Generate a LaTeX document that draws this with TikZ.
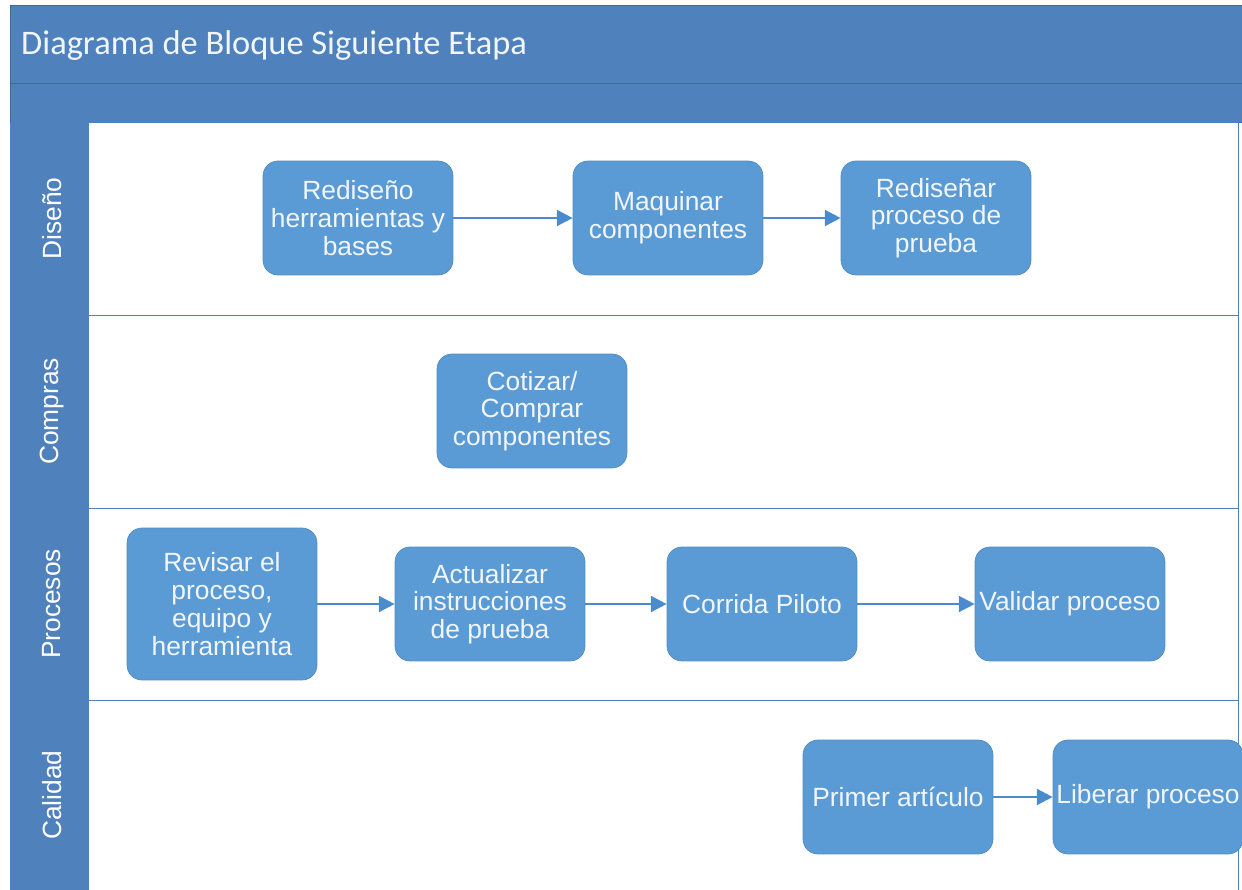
\documentclass[tikz,border=0pt]{standalone}
\usepackage{fontspec}
\setmainfont{Liberation Sans}
\newfontfamily\titulofont{Carlito}
\usetikzlibrary{arrows.meta}
\definecolor{azulcab}{HTML}{4F81BD}
\definecolor{azulcaja}{HTML}{5B9BD5}
\definecolor{azulflecha}{HTML}{4A8BCF}
\definecolor{textoclaro}{HTML}{F2F6FB}
\tikzset{
  paso/.style={draw=azulcaja!90!black, fill=azulcaja, rounded corners=0.3cm,
    minimum width=3.8cm, minimum height=2.28cm, inner sep=1pt, text=textoclaro,
    align=center, font=\fontsize{15}{15.8}\selectfont},
  flecha/.style={draw=azulflecha, line width=1.4pt, -{Triangle[length=9pt,width=9pt]}},
  carril/.style={rotate=90, text=white, font=\fontsize{15}{16}\selectfont}
}

\begin{document}
\begin{tikzpicture}[x=0.02cm, y=-0.02cm]
	%%%%% START %%%%%
	\useasboundingbox[fill=white] (0, 0) rectangle (1242, 890);
	
	% cabecera
	\draw[fill=azulcab, draw=azulcab!80!black] (10, 5) rectangle (1242, 83);
	\draw[fill=azulcab, draw=azulcab!80!black] (10, 83) rectangle (1242, 122);
	\node[anchor=west, text=textoclaro, font=\titulofont\fontsize{19.6}{22}\selectfont] (titulo) at (15, 45) {Diagrama de Bloque Siguiente Etapa};
	
	% carriles
	\foreach \nombre/\arriba/\abajo in {Diseño/122/315, Compras/315/508, Procesos/508/700, Calidad/700/890} {
		\draw[fill=white, draw=azulcab] (88, \arriba) rectangle (1238, \abajo);
		\draw[fill=azulcab, draw=azulcab] (10, \arriba) rectangle (88, \abajo);
		\node[carril] at (52, {(\arriba+\abajo)/2}) {\nombre};
	}
	
	% Diseño
	\node[paso] (redherr) at (358, 218) {Rediseño\\herramientas y\\bases};
	\node[paso] (maquinar) at (668, 218) {Maquinar\\componentes};
	\node[paso] (redproc) at (936, 218) {Rediseñar\\proceso de\\prueba};
	
	% Compras
	\node[paso] (cotizar) at (532, 411) {Cotizar/\\Comprar\\componentes};
	
	% Procesos
	\node[paso, minimum height=3.04cm] (revisar) at (222, 604) {Revisar el\\proceso,\\equipo y\\herramienta};
	\node[paso] (actualizar) at (490, 604) {Actualizar\\instrucciones\\de prueba};
	\node[paso] (corrida) at (762, 604) {Corrida Piloto};
	\node[paso] (validar) at (1070, 604) {Validar proceso};
	
	% Calidad
	\node[paso] (primer) at (898, 797) {Primer artículo};
	\node[paso] (liberar) at (1148, 797) {Liberar proceso};
	
	\draw[flecha] (redherr) -- (maquinar);
	\draw[flecha] (maquinar) -- (redproc);
	\draw[flecha] (revisar) -- (actualizar);
	\draw[flecha] (actualizar) -- (corrida);
	\draw[flecha] (corrida) -- (validar);
	\draw[flecha] (primer) -- (liberar);
	%%%%% END %%%%%
\end{tikzpicture}
\end{document}
